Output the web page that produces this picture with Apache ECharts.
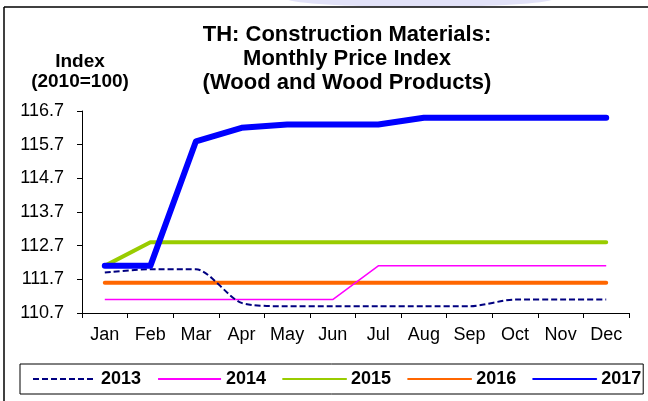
<!DOCTYPE html>
<html>
<head>
<meta charset="utf-8">
<script src="https://cdn.jsdelivr.net/npm/echarts@6/dist/echarts.min.js"></script>
<style>
  html, body { margin: 0; padding: 0; background: #fff; }
  #chart { width: 648px; height: 401px; }
</style>
</head>
<body>
<div id="chart"></div>
<script>
// months on the x axis
const months = ['Jan', 'Feb', 'Mar', 'Apr', 'May', 'Jun', 'Jul', 'Aug', 'Sep', 'Oct', 'Nov', 'Dec'];
// index values (2010=100)
const y2013 = [111.9, 112.0, 112.0, 111.0, 110.9, 110.9, 110.9, 110.9, 110.9, 111.1, 111.1, 111.1];
const y2014 = [111.1, 111.1, 111.1, 111.1, 111.1, 111.1, 112.1, 112.1, 112.1, 112.1, 112.1, 112.1];
const y2015 = [112.1, 112.8, 112.8, 112.8, 112.8, 112.8, 112.8, 112.8, 112.8, 112.8, 112.8, 112.8];
const y2016 = [111.6, 111.6, 111.6, 111.6, 111.6, 111.6, 111.6, 111.6, 111.6, 111.6, 111.6, 111.6];
const y2017 = [112.1, 112.1, 115.8, 116.2, 116.3, 116.3, 116.3, 116.5, 116.5, 116.5, 116.5, 116.5];
const yMin = 110.7;
const yMax = 116.7;

const chart = echarts.init(document.getElementById('chart'));
const font = 'Liberation Sans, Arial, sans-serif';

const option = {
  animation: false,
  backgroundColor: '#fff',
  textStyle: { fontFamily: font },
  grid: { left: 82, right: 19, top: 111, bottom: 88 },
  graphic: [
    // faint watermark blob at the top edge
    {
      type: 'ellipse', silent: true, z: -1,
      shape: { cx: 420, cy: -2, rx: 135, ry: 9 },
      style: { fill: '#e2e2f8' }
    },
    // frame (top + left)
    { type: 'line', shape: { x1: 4, y1: 7, x2: 648, y2: 7 }, style: { stroke: '#000', lineWidth: 1.5 } },
    { type: 'line', shape: { x1: 4, y1: 7, x2: 4, y2: 401 }, style: { stroke: '#000', lineWidth: 1.5 } },
    {
      type: 'text', x: 347, y: 23,
      style: {
        text: 'TH: Construction Materials:\nMonthly Price Index\n(Wood and Wood Products)',
        font: 'bold 22px ' + font, fill: '#000',
        align: 'center', verticalAlign: 'top', lineHeight: 24
      }
    },
    {
      type: 'text', x: 80, y: 61.5,
      style: { text: 'Index', font: 'bold 19px ' + font, fill: '#000', align: 'center', verticalAlign: 'middle' }
    },
    {
      type: 'text', x: 80, y: 82,
      style: { text: '(2010=100)', font: 'bold 19px ' + font, fill: '#000', align: 'center', verticalAlign: 'middle' }
    }
  ],
  legend: {
    left: 20, top: 364,
    padding: [6, 2, 6, 12],
    borderColor: '#000', borderWidth: 1,
    itemWidth: 63, itemHeight: 18, itemGap: 16,
    itemStyle: { opacity: 0 },
    textStyle: { fontSize: 18, fontWeight: 'bold', color: '#000', fontFamily: font },
    data: ['2013', '2014', '2015', '2016', '2017']
  },
  xAxis: {
    type: 'category',
    data: months,
    boundaryGap: true,
    axisLine: { lineStyle: { color: '#000', width: 1 } },
    axisTick: { show: true, length: 5, lineStyle: { color: '#000' } },
    axisLabel: { color: '#000', fontSize: 18, margin: 13, fontFamily: font }
  },
  yAxis: {
    type: 'value',
    min: yMin, max: yMax, interval: 1,
    splitLine: { show: false },
    axisLine: { show: true, lineStyle: { color: '#000', width: 1 } },
    axisTick: { show: true, inside: false, length: 5, lineStyle: { color: '#000' } },
    axisLabel: {
      color: '#000', fontSize: 18, margin: 18, fontFamily: font,
      formatter: v => v.toFixed(1)
    }
  },
  series: [
    {
      name: '2013', type: 'line', data: y2013, symbol: 'none', smooth: 0.25,
      lineStyle: { color: '#000080', width: 2, type: [6, 3] },
      itemStyle: { color: '#000080' }, z: 5
    },
    {
      name: '2014', type: 'line', data: y2014, symbol: 'none',
      lineStyle: { color: '#ff00ff', width: 1.5 },
      itemStyle: { color: '#ff00ff' }, z: 4
    },
    {
      name: '2015', type: 'line', data: y2015, symbol: 'none',
      lineStyle: { color: '#99cc00', width: 4, cap: 'round' },
      itemStyle: { color: '#99cc00' }, z: 3
    },
    {
      name: '2016', type: 'line', data: y2016, symbol: 'none',
      lineStyle: { color: '#ff6600', width: 4, cap: 'round' },
      itemStyle: { color: '#ff6600' }, z: 3
    },
    {
      name: '2017', type: 'line', data: y2017, symbol: 'none',
      lineStyle: { color: '#0000ff', width: 6, cap: 'round', join: 'round' },
      itemStyle: { color: '#0000ff' }, z: 6
    }
  ]
};

chart.setOption(option);
window.onresize = () => {
  chart.resize();
};
</script>
</body>
</html>
